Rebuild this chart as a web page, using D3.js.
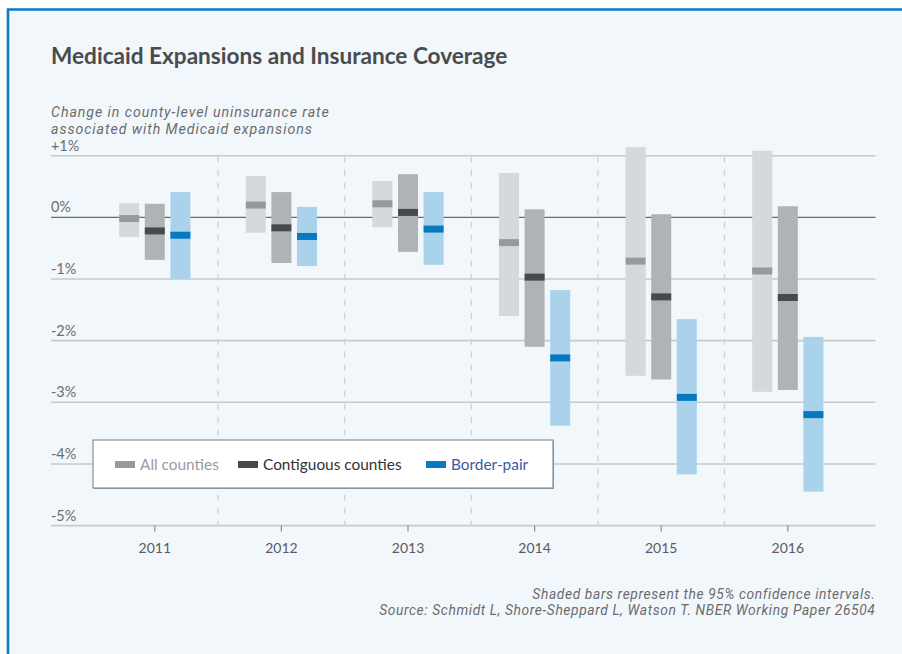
<!DOCTYPE html>
<html>
<head>
<meta charset="utf-8">
<script src="https://cdn.jsdelivr.net/npm/d3@7"></script>
<style>
  body { margin: 0; background: #fff; }
  svg { display: block; font-family: "Lato", "Open Sans", sans-serif; }
  .grid line { stroke: #c7cacd; stroke-width: 1.6; }
  .sep { stroke: #cfd2d5; stroke-width: 1.3; stroke-dasharray: 6 7; }
  .note { font-family: "Roboto", "Lato", sans-serif; font-style: italic; fill: #6b6c6e; }
</style>
</head>
<body>
<svg id="chart"></svg>
<script>
const WIDTH = 902;
const HEIGHT = 654;

// values in percentage points
const years = ['2011', '2012', '2013', '2014', '2015', '2016'];
const seriesNames = ['All counties', 'Contiguous counties', 'Border-pair'];

const allEst = [-0.02, 0.20, 0.22, -0.41, -0.71, -0.87];
const allLo = [-0.32, -0.25, -0.16, -1.60, -2.57, -2.83];
const allHi = [0.23, 0.67, 0.59, 0.72, 1.14, 1.08];

const contEst = [-0.22, -0.17, 0.08, -0.97, -1.29, -1.30];
const contLo = [-0.69, -0.74, -0.56, -2.10, -2.63, -2.80];
const contHi = [0.22, 0.41, 0.70, 0.13, 0.05, 0.18];

const borderEst = [-0.29, -0.31, -0.19, -2.28, -2.92, -3.20];
const borderLo = [-1.00, -0.79, -0.77, -3.38, -4.17, -4.45];
const borderHi = [0.41, 0.17, 0.41, -1.18, -1.65, -1.94];

const yTicks = [1, 0, -1, -2, -3, -4, -5];

const barColor = ['#d5d8dc', '#b0b3b6', '#aad2ea'];
const markColor = ['#98999b', '#48494b', '#0679c1'];
const legendText = ['#9a9b9d', '#333333', '#3f58a4'];

const svg = d3.select('#chart')
  .attr('width', WIDTH)
  .attr('height', HEIGHT);

// frame
svg.append('rect').attr('x', 8).attr('y', 9).attr('width', WIDTH).attr('height', HEIGHT)
  .attr('fill', '#f2f7fb');
svg.append('path').attr('d', `M8,${HEIGHT} V9.5 H${WIDTH}`)
  .attr('fill', 'none').attr('stroke', '#0a7cc2').attr('stroke-width', 2.6);

// scales
const x = d3.scaleBand().domain(years).range([91.5, 851.1]);
const xs = d3.scalePoint().domain(seriesNames).range([-25.6, 25.6]);
const y = d3.scaleLinear().domain([-5, 1]).range([525.6, 155.7]);
const barW = 20;

// title + subtitle
svg.append('text').attr('x', 51).attr('y', 64)
  .attr('font-size', 22.6).attr('font-weight', 700).attr('fill', '#4a4b4d')
  .text('Medicaid Expansions and Insurance Coverage');

svg.append('g').attr('class', 'note').attr('font-size', 14.2)
  .attr('letter-spacing', 0.92)
  .selectAll('text')
  .data(['Change in county-level uninsurance rate', 'associated with Medicaid expansions'])
  .enter().append('text')
  .attr('x', 51).attr('y', (d, i) => 116.8 + i * 16.8)
  .text(d => d);

// grid
const grid = svg.append('g').attr('class', 'grid');
grid.selectAll('line')
  .data(yTicks.filter(t => t !== 0))
  .enter().append('line')
  .attr('x1', 51).attr('x2', 875.5)
  .attr('y1', d => y(d)).attr('y2', d => y(d));

grid.selectAll('text')
  .data(yTicks)
  .enter().append('text')
  .attr('x', 51).attr('y', d => y(d) - 5)
  .attr('font-size', 14.4).attr('fill', '#6b6c6e')
  .text(d => (d > 0 ? '+' : '') + d + '%');

// dashed separators
svg.selectAll('.sep')
  .data(years.slice(1))
  .enter().append('line')
  .attr('class', 'sep')
  .attr('x1', d => x(d)).attr('x2', d => x(d))
  .attr('y1', y(1) + 1).attr('y2', y(-5));

// zero line
svg.append('line')
  .attr('x1', 51).attr('x2', 875.5)
  .attr('y1', y(0)).attr('y2', y(0))
  .attr('stroke', '#6a6b6d').attr('stroke-width', 1.3);

// x axis
const xAxis = svg.append('g')
  .attr('transform', `translate(0,${y(-5)})`)
  .call(d3.axisBottom(x).tickSize(6).tickSizeOuter(0));
xAxis.select('.domain').remove();
xAxis.selectAll('.tick line').attr('stroke', '#8a8b8d').attr('stroke-width', 1.2);
xAxis.selectAll('.tick text')
  .attr('font-family', 'Lato, sans-serif').attr('font-size', 14)
  .attr('fill', '#5a5b5d').attr('dy', '1.35em');

// bars
const est = [allEst, contEst, borderEst];
const lo = [allLo, contLo, borderLo];
const hi = [allHi, contHi, borderHi];

const rows = [];
seriesNames.forEach((s, si) => {
  years.forEach((yr, yi) => {
    rows.push({ s, si, yr, est: est[si][yi], lo: lo[si][yi], hi: hi[si][yi] });
  });
});

const bar = svg.append('g').selectAll('g')
  .data(rows)
  .enter().append('g')
  .attr('transform', d => `translate(${x(d.yr) + x.bandwidth() / 2 + xs(d.s) - barW / 2},0)`);

bar.append('rect')
  .attr('y', d => y(d.hi))
  .attr('width', barW)
  .attr('height', d => y(d.lo) - y(d.hi))
  .attr('fill', d => barColor[d.si]);

bar.append('rect')
  .attr('y', d => y(d.est) - 3.5)
  .attr('width', barW)
  .attr('height', 7)
  .attr('fill', d => markColor[d.si]);

// legend
const legend = svg.append('g').attr('transform', 'translate(93,440)');
legend.append('rect').attr('x', 1).attr('y', 1).attr('width', 460).attr('height', 48)
  .attr('fill', '#999');
legend.append('rect').attr('width', 460).attr('height', 48)
  .attr('fill', '#fff').attr('stroke', '#8d8e90').attr('stroke-width', 1.2);

const legendX = [22, 145, 333];
const item = legend.selectAll('.item')
  .data(seriesNames)
  .enter().append('g')
  .attr('class', 'item')
  .attr('transform', (d, i) => `translate(${legendX[i]},0)`);

item.append('rect').attr('y', 21).attr('width', 20).attr('height', 7)
  .attr('fill', (d, i) => markColor[i]);
item.append('text').attr('x', 25).attr('y', 29.5)
  .attr('font-size', 15.4).attr('fill', (d, i) => legendText[i])
  .text(d => d);

// notes
svg.append('g').attr('class', 'note')
  .attr('font-size', 13.8)
  .attr('letter-spacing', 0.62)
  .attr('text-anchor', 'end')
  .selectAll('text')
  .data(['Shaded bars represent the 95% confidence intervals.',
    'Source: Schmidt L, Shore-Sheppard L, Watson T. NBER Working Paper 26504'])
  .enter().append('text')
  .attr('x', 875.5).attr('y', (d, i) => 598.6 + i * 16.4)
  .text(d => d);
</script>
</body>
</html>
